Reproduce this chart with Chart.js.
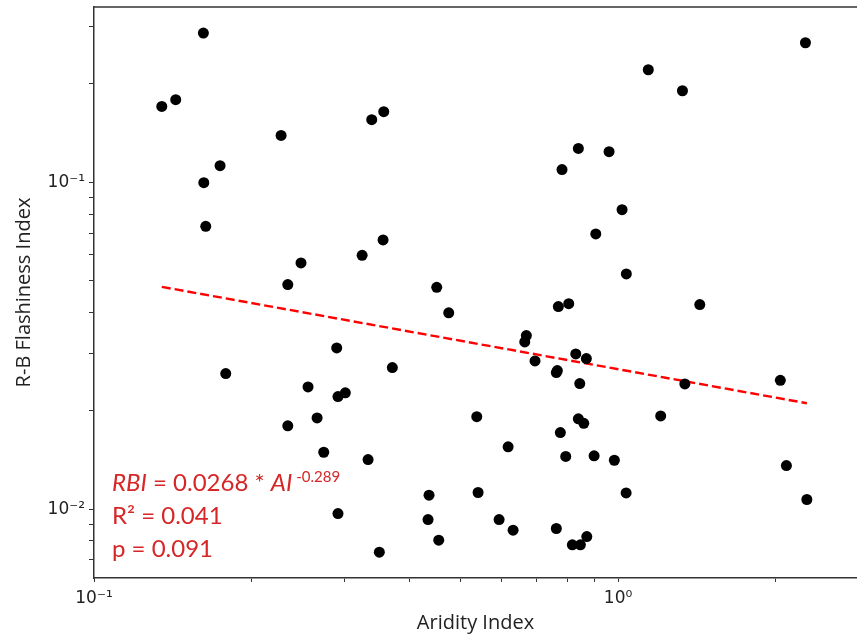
<!DOCTYPE html>
<html>
<head>
<meta charset="utf-8">
<script src="https://cdn.jsdelivr.net/npm/chart.js@4/dist/chart.umd.min.js"></script>
<style>
  body { margin: 0; background: #fff; }
  canvas { display: block; }
</style>
</head>
<body>
<canvas id="flashChart" width="857" height="638"></canvas>
<script>
// Aridity index (x) vs R-B flashiness index (y), one entry per catchment
var aridity = [
  0.1347, 0.1432, 0.1617, 0.162, 0.1634, 0.174, 0.1784, 0.2275, 0.2343, 0.2343,
  0.2483, 0.2561, 0.2665, 0.2744, 0.2905, 0.2921, 0.2921, 0.3017, 0.3248, 0.3334,
  0.3388, 0.3561, 0.3572, 0.3503, 0.3709, 0.4358, 0.4339, 0.4508, 0.4548, 0.4752,
  0.5375, 0.5406, 0.5929, 0.6169, 0.6305, 0.6637, 0.6683, 0.6943, 0.7658, 0.7624,
  0.7624, 0.7692, 0.776, 0.7817, 0.7946, 0.8051, 0.818, 0.8304, 0.8399, 0.8474,
  0.8451, 0.8601, 0.87, 0.8716, 0.9, 0.9067, 0.9612, 0.9838, 1.0177, 1.037,
  1.036, 1.142, 1.206, 1.327, 1.341, 1.432, 2.04, 2.095, 2.292, 2.278, 0.8399
];
var flashiness = [
  0.1708, 0.179, 0.2863, 0.0998, 0.07335, 0.1125, 0.026, 0.1392, 0.04866, 0.01799,
  0.05669, 0.02367, 0.01903, 0.01494, 0.03115, 0.02211, 0.0097, 0.0227, 0.0598, 0.01419,
  0.1555, 0.06666, 0.1645, 0.00739, 0.02713, 0.01104, 0.0093, 0.04774, 0.00804, 0.03988,
  0.0192, 0.01125, 0.0093, 0.01552, 0.00863, 0.0325, 0.03398, 0.02843, 0.02656, 0.02618,
  0.00873, 0.04169, 0.01716, 0.1094, 0.0145, 0.04256, 0.00778, 0.02987, 0.0189, 0.00778,
  0.02423, 0.01832, 0.0289, 0.00825, 0.01457, 0.06954, 0.1241, 0.01412, 0.08251, 0.05247,
  0.01122, 0.2211, 0.0193, 0.1907, 0.02418, 0.04227, 0.0248, 0.0136, 0.01071, 0.2674, 0.127
];

// fitted power law, ends
var trendAridity = [0.1347, 2.292];
var trendFlashiness = [0.0479, 0.0211];

// tick positions and labels (only decades carry text)
var xTickValues = [0.1, 0.2, 0.3, 0.4, 0.5, 0.6, 0.7, 0.8, 0.9, 1, 2];
var xTickLabels = ["10\u207B\u00B9", "", "", "", "", "", "", "", "", "10\u2070", ""];
var yTickValues = [0.007, 0.008, 0.009, 0.01, 0.02, 0.03, 0.04, 0.05, 0.06, 0.07, 0.08, 0.09, 0.1, 0.2, 0.3];
var yTickLabels = ["", "", "", "10\u207B\u00B2", "", "", "", "", "", "", "", "", "10\u207B\u00B9", "", ""];

var fitLines = [
  { parts: [["italic", "RBI"], ["normal", " = 0.0268 * "], ["italic", "AI"], ["sup", " -0.289"]] },
  { parts: [["normal", "R\u00B2 = 0.041"]] },
  { parts: [["normal", "p = 0.091"]] }
];

var points = aridity.map(function (a, i) {
  return { x: a, y: flashiness[i] };
});
var trend = trendAridity.map(function (a, i) {
  return { x: a, y: trendFlashiness[i] };
});

// no extra edge padding from tick labels
function noPad(scale) {
  scale.paddingTop = 0;
  scale.paddingBottom = 0;
  scale.paddingLeft = 0;
  scale.paddingRight = 0;
}

// top spine + regression text
var extrasPlugin = {
  id: "extras",
  afterDraw: function (chart) {
    var ctx = chart.ctx;
    var area = chart.chartArea;
    ctx.save();
    ctx.strokeStyle = "#333";
    ctx.lineWidth = 1.5;
    ctx.beginPath();
    ctx.moveTo(area.left, area.top);
    ctx.lineTo(area.right, area.top);
    ctx.stroke();

    ctx.fillStyle = "#d62728";
    ctx.textBaseline = "alphabetic";
    var baselines = [491, 524, 557];
    fitLines.forEach(function (line, i) {
      var x = 112;
      line.parts.forEach(function (p) {
        var y = baselines[i];
        if (p[0] === "sup") {
          ctx.font = '15px Lato';
          y -= 9;
        } else if (p[0] === "italic") {
          ctx.font = 'italic 24px Lato';
        } else {
          ctx.font = '24px Lato';
        }
        ctx.fillText(p[1], x, y);
        x += ctx.measureText(p[1]).width;
      });
    });
    ctx.restore();
  }
};

var ctx = document.getElementById("flashChart").getContext("2d");
var flashChart = new Chart(ctx, {
  data: {
    datasets: [
      {
        type: "scatter",
        label: "Catchments",
        data: points,
        backgroundColor: "#000",
        borderWidth: 0,
        pointRadius: 5.5,
      },
      {
        type: "line",
        label: "Fit",
        data: trend,
        borderColor: "#ff0000",
        borderWidth: 2.4,
        borderDash: [9, 4],
        pointRadius: 0,
        fill: false,
      },
    ],
  },
  options: {
    responsive: false,
    animation: false,
    devicePixelRatio: 1,
    layout: { autoPadding: false, padding: { top: 7, right: 0, left: 0, bottom: 0 } },
    plugins: { legend: { display: false }, tooltip: { enabled: false } },
    scales: {
      x: {
        type: "logarithmic",
        min: 0.1,
        max: 2.857,
        afterBuildTicks: function (scale) {
          scale.ticks = xTickValues.map(function (v) { return { value: v }; });
        },
        afterFit: function (scale) { scale.height = 60; noPad(scale); },
        grid: { drawOnChartArea: false, tickLength: 4, color: "#333" },
        border: { color: "#333", width: 1.5 },
        ticks: {
          autoSkip: false,
          maxRotation: 0,
          padding: 6,
          color: "#222",
          font: { family: "DejaVu Sans", size: 17 },
          callback: function (value, index) { return xTickLabels[index]; },
        },
        title: {
          display: true,
          text: "Aridity Index",
          color: "#222",
          font: { family: "Open Sans", size: 20 },
          padding: { top: 0, bottom: 3 },
        },
      },
      y: {
        type: "logarithmic",
        min: 0.00616,
        max: 0.344,
        afterBuildTicks: function (scale) {
          scale.ticks = yTickValues.map(function (v) { return { value: v }; });
        },
        afterFit: function (scale) { scale.width = 94; noPad(scale); },
        grid: { drawOnChartArea: false, tickLength: 5, color: "#333" },
        border: { color: "#333", width: 1.5 },
        ticks: {
          autoSkip: false,
          padding: 4,
          color: "#222",
          font: { family: "DejaVu Sans", size: 17 },
          callback: function (value, index) { return yTickLabels[index]; },
        },
        title: {
          display: true,
          text: "R-B Flashiness Index",
          color: "#222",
          font: { family: "Open Sans", size: 20 },
          padding: { top: 12, bottom: 0 },
        },
      },
    },
  },
  plugins: [extrasPlugin],
});
</script>
</body>
</html>
